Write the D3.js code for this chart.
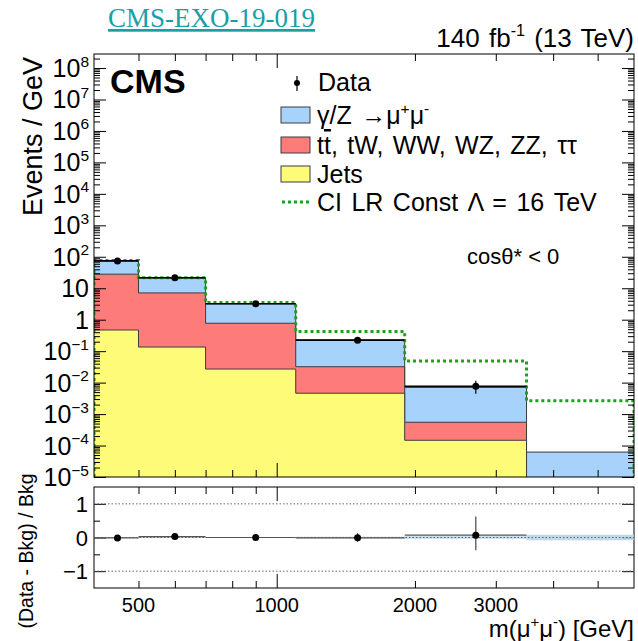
<!DOCTYPE html>
<html lang="en">
<head>
    <meta charset="UTF-8">
    <title>CMS-EXO-19-019 dimuon mass, cos theta* &lt; 0</title>
    <script src="https://d3js.org/d3.v7.min.js"></script>
    <style>
        body {
            margin: 0;
            background: #fff;
            font-family: "Liberation Sans", Arial, sans-serif;
        }
        .axis line { stroke: #000; }
        .link {
            font-family: "Liberation Serif", "Times New Roman", serif;
            fill: #1a9ea8;
            text-decoration: underline;
        }
        .leg { word-spacing: 2.5px; }
    </style>
</head>
<body>
    <div id="chart"></div>

    <script>
        // bin edges in GeV and the stacked backgrounds (Events / GeV)
        const binEdges = [400, 500, 700, 1100, 1900, 3500, 6000];
        const dyMuMu = [47, 13.9, 2.43, 0.194, 0.00655, 5.8e-5];
        const topDiboson = [27.5, 6.97, 0.743, 0.0274, 4.03e-4, 3e-6];
        const jets = [0.47, 0.135, 0.027, 0.0046, 1.47e-4, 1e-6];
        const ciSignal = [76, 21.5, 3.5, 0.42, 0.0486, 0.00266];

        // observed data (mean mass in the bin, Events / GeV, relative errors)
        const dataMass = [450, 600, 900, 1500, 2714];
        const dataValues = [74, 21.6, 3.2, 0.224, 0.0076];
        const dataErrLow = [0.012, 0.02, 0.05, 0.12, 0.45];
        const dataErrHigh = [0.012, 0.02, 0.05, 0.14, 0.55];

        // relative background uncertainty per bin (ratio band)
        const bkgUncert = [0.01, 0.012, 0.015, 0.02, 0.04, 0.08];

        const yPowers = d3.range(-5, 9);
        const xLabelTicks = [500, 1000, 2000, 3000];
        const xMajorTicks = [1000];
        const xMinorTicks = [500, 600, 700, 800, 900, 2000, 3000, 4000, 5000];
        const ratioMajor = [-1, 0, 1];
        const ratioMinor = [-0.5, 0.5];

        const width = 638, height = 641;
        const frame = { left: 94, right: 634, top: 54, bottom: 477 };
        const rframe = { top: 487, bottom: 588 };
        const yMin = 1e-5, yMax = 2.79e8;

        const svg = d3.select("#chart")
            .append("svg")
            .attr("width", width)
            .attr("height", height);

        const x = d3.scaleLog().domain([binEdges[0], binEdges[binEdges.length - 1]]).range([frame.left, frame.right]);
        const y = d3.scaleLog().domain([yMin, yMax]).range([frame.bottom, frame.top]);
        const yr = d3.scaleLinear().domain([-1.5, 1.5]).range([rframe.bottom, rframe.top]);

        svg.append("clipPath").attr("id", "clipMain")
            .append("rect")
            .attr("x", frame.left).attr("y", frame.top)
            .attr("width", frame.right - frame.left).attr("height", frame.bottom - frame.top);
        svg.append("clipPath").attr("id", "clipRatio")
            .append("rect")
            .attr("x", frame.left).attr("y", rframe.top)
            .attr("width", frame.right - frame.left).attr("height", rframe.bottom - rframe.top);

        // stacked tops
        const bkgTotal = jets.map((v, i) => v + topDiboson[i] + dyMuMu[i]);
        const layers = [
            { values: bkgTotal, color: "#a6d2fb" },
            { values: jets.map((v, i) => v + topDiboson[i]), color: "#fd7b78" },
            { values: jets, color: "#fdfb78" }
        ];

        const stepPoints = vals => vals.map((v, i) => [binEdges[i], v]).concat([[binEdges[binEdges.length - 1], vals[vals.length - 1]]]);

        const area = d3.area()
            .x(d => x(d[0]))
            .y0(frame.bottom)
            .y1(d => Math.min(y(d[1]), frame.bottom + 5))
            .curve(d3.curveStepAfter);
        const line = d3.line()
            .x(d => x(d[0]))
            .y(d => Math.min(y(d[1]), frame.bottom + 5))
            .curve(d3.curveStepAfter);

        const main = svg.append("g").attr("clip-path", "url(#clipMain)");

        layers.forEach(l => {
            main.append("path")
                .attr("d", area(stepPoints(l.values)))
                .attr("fill", l.color);
            main.append("path")
                .attr("d", line(stepPoints(l.values)))
                .attr("fill", "none")
                .attr("stroke", "#3c3c3c")
                .attr("stroke-width", 1);
        });

        // CI signal outline
        const ciPts = [[binEdges[0], yMin]].concat(stepPoints(ciSignal))
            .concat([[binEdges[binEdges.length - 1], yMin]]);
        main.append("path")
            .attr("d", line(ciPts))
            .attr("fill", "none")
            .attr("stroke", "#1f9e1f")
            .attr("stroke-width", 3)
            .attr("stroke-dasharray", "3,3");

        // data
        dataValues.forEach((v, i) => {
            const bkg = bkgTotal[i];
            main.append("line")
                .attr("x1", x(binEdges[i])).attr("x2", x(binEdges[i + 1]))
                .attr("y1", y(v)).attr("y2", y(v))
                .attr("stroke", "#000").attr("stroke-width", 1.6);
            main.append("line")
                .attr("x1", x(dataMass[i])).attr("x2", x(dataMass[i]))
                .attr("y1", y(v - dataErrLow[i] * bkg)).attr("y2", y(v + dataErrHigh[i] * bkg))
                .attr("stroke", "#000").attr("stroke-width", 1.2);
            main.append("circle")
                .attr("cx", x(dataMass[i])).attr("cy", y(v))
                .attr("r", 3.5).attr("fill", "#000");
        });

        // axes of the main panel
        const yMajorVals = yPowers.map(p => Math.pow(10, p));
        const yMinorVals = [];
        yPowers.forEach(p => d3.range(2, 10).forEach(m => {
            const v = m * Math.pow(10, p);
            if (v < yMax) yMinorVals.push(v);
        }));

        function ticks(axis, values, size, tx, ty) {
            svg.append("g")
                .attr("class", "axis")
                .attr("transform", `translate(${tx},${ty})`)
                .call(axis.tickValues(values).tickSize(-size).tickFormat(""))
                .call(g => g.select(".domain").remove());
        }

        ticks(d3.axisLeft(y), yMajorVals, 12, frame.left, 0);
        ticks(d3.axisLeft(y), yMinorVals, 6, frame.left, 0);
        ticks(d3.axisRight(y), yMajorVals, 12, frame.right, 0);
        ticks(d3.axisRight(y), yMinorVals, 6, frame.right, 0);
        [[d3.axisBottom, frame.bottom], [d3.axisTop, frame.top], [d3.axisBottom, rframe.bottom], [d3.axisTop, rframe.top]]
            .forEach(([ax, ty]) => {
                ticks(ax(x), xMajorTicks, 14, 0, ty);
                ticks(ax(x), xMinorTicks, 7, 0, ty);
            });
        ticks(d3.axisLeft(yr), ratioMajor, 12, frame.left, 0);
        ticks(d3.axisLeft(yr), ratioMinor, 6, frame.left, 0);
        ticks(d3.axisRight(yr), ratioMajor, 12, frame.right, 0);
        ticks(d3.axisRight(yr), ratioMinor, 6, frame.right, 0);

        svg.append("rect")
            .attr("x", frame.left).attr("y", frame.top)
            .attr("width", frame.right - frame.left).attr("height", frame.bottom - frame.top)
            .attr("fill", "none").attr("stroke", "#000");
        svg.append("rect")
            .attr("x", frame.left).attr("y", rframe.top)
            .attr("width", frame.right - frame.left).attr("height", rframe.bottom - rframe.top)
            .attr("fill", "none").attr("stroke", "#000");

        // text with superscripts: parts = [[text, sup?], ...]
        function richText(parent, parts, size) {
            const t = parent.append("text").style("font-size", size + "px");
            let shift = 0;
            parts.forEach(([s, sup]) => {
                const span = t.append("tspan");
                if (sup) {
                    span.attr("dy", -size * 0.42 - shift).style("font-size", (size * 0.62) + "px");
                    shift = -size * 0.42;
                } else {
                    span.attr("dy", -shift).style("font-size", size + "px");
                    shift = 0;
                }
                span.text(s);
            });
            return t;
        }

        // y tick labels
        yPowers.forEach(p => {
            let parts;
            if (p === 0) parts = [["1"]];
            else if (p === 1) parts = [["10"]];
            else parts = [["10"], [p < 0 ? "\u2212" + (-p) : String(p), true]];
            richText(svg, parts, 25)
                .attr("x", frame.left - 5)
                .attr("y", y(Math.pow(10, p)) + 9)
                .attr("text-anchor", "end");
        });

        svg.append("text")
            .attr("transform", `translate(42,${frame.top + 3}) rotate(-90)`)
            .attr("text-anchor", "end")
            .style("font-size", "27px")
            .text("Events / GeV");

        // ratio panel
        const ratioG = svg.append("g").attr("clip-path", "url(#clipRatio)");
        const band = d3.area()
            .x(d => x(d[0]))
            .y0(d => yr(-d[1]))
            .y1(d => yr(d[1]))
            .curve(d3.curveStepAfter);
        ratioG.append("path")
            .attr("d", band(stepPoints(bkgUncert)))
            .attr("fill", "#b3d2e8")
            .attr("opacity", 0.85);

        ratioMajor.forEach(v => {
            ratioG.append("line")
                .attr("x1", frame.left).attr("x2", frame.right)
                .attr("y1", yr(v)).attr("y2", yr(v))
                .attr("stroke", "#666").attr("stroke-width", 1)
                .attr("stroke-dasharray", "1.5,2");
        });

        dataValues.forEach((v, i) => {
            const bkg = bkgTotal[i];
            const r = (v - bkg) / bkg;
            ratioG.append("line")
                .attr("x1", x(binEdges[i])).attr("x2", x(binEdges[i + 1]))
                .attr("y1", yr(r)).attr("y2", yr(r))
                .attr("stroke", "#555").attr("stroke-width", 1.2);
            ratioG.append("line")
                .attr("x1", x(dataMass[i])).attr("x2", x(dataMass[i]))
                .attr("y1", yr(r - dataErrLow[i])).attr("y2", yr(r + dataErrHigh[i]))
                .attr("stroke", "#444").attr("stroke-width", 1.2);
            ratioG.append("circle")
                .attr("cx", x(dataMass[i])).attr("cy", yr(r))
                .attr("r", 3.5).attr("fill", "#000");
        });

        ratioMajor.forEach(v => {
            svg.append("text")
                .attr("x", frame.left - 6)
                .attr("y", yr(v) + 8)
                .attr("text-anchor", "end")
                .style("font-size", "22px")
                .text(v < 0 ? "\u2212" + (-v) : v);
        });

        svg.append("text")
            .attr("transform", `translate(33,551) rotate(-90)`)
            .attr("text-anchor", "middle")
            .style("font-size", "19.5px")
            .text("(Data - Bkg) / Bkg");

        xLabelTicks.forEach(v => {
            svg.append("text")
                .attr("x", x(v))
                .attr("y", rframe.bottom + 24)
                .attr("text-anchor", "middle")
                .style("font-size", "20px")
                .text(v);
        });

        richText(svg, [["m(\u03bc"], ["+", true], ["\u03bc"], ["-", true], [") [GeV]"]], 24)
            .attr("x", frame.right)
            .attr("y", 637)
            .attr("text-anchor", "end");

        // header texts
        svg.append("text")
            .attr("class", "link")
            .attr("x", 108).attr("y", 27)
            .style("font-size", "27px")
            .text("CMS-EXO-19-019");

        richText(svg, [["140 fb"], ["-1", true], [" (13 TeV)"]], 26)
            .attr("x", frame.right)
            .attr("y", 47)
            .attr("text-anchor", "end")
            .style("word-spacing", "2px");

        svg.append("text")
            .attr("x", 110).attr("y", 93)
            .style("font-size", "34px")
            .style("font-weight", "bold")
            .text("CMS");

        svg.append("text")
            .attr("x", 467).attr("y", 264)
            .style("font-size", "22px")
            .text("cos\u03b8* < 0");

        // legend
        const legend = svg.append("g").attr("class", "leg");
        legend.append("line")
            .attr("x1", 297).attr("x2", 297).attr("y1", 76).attr("y2", 91)
            .attr("stroke", "#000").attr("stroke-width", 1.2);
        legend.append("circle").attr("cx", 297).attr("cy", 83).attr("r", 3).attr("fill", "#000");
        legend.append("text").attr("x", 318).attr("y", 91).style("font-size", "25px").text("Data");

        const boxRows = [
            { y: 115, color: layers[0].color, parts: [["\u03b3/Z \u2192\u03bc"], ["+", true], ["\u03bc"], ["-", true]] },
            { y: 145, color: layers[1].color, parts: null },
            { y: 174, color: layers[2].color, parts: [["Jets"]] }
        ];
        boxRows.forEach(r => {
            legend.append("rect")
                .attr("x", 281).attr("y", r.y - 8).attr("width", 29).attr("height", 16)
                .attr("fill", r.color).attr("stroke", "#3c3c3c");
            if (r.parts) {
                richText(legend, r.parts, 25).attr("x", 317).attr("y", r.y + 9);
            } else {
                const t = legend.append("text").attr("x", 317).attr("y", r.y + 9).style("font-size", "25px");
                t.append("tspan").style("font-size", "25px").text("t");
                t.append("tspan").style("font-size", "25px").attr("text-decoration", "overline").text("t");
                t.append("tspan").style("font-size", "25px").text(", tW, WW, WZ, ZZ, \u03c4\u03c4");
            }
        });

        legend.append("line")
            .attr("x1", 282).attr("x2", 311).attr("y1", 202).attr("y2", 202)
            .attr("stroke", "#1f9e1f").attr("stroke-width", 3).attr("stroke-dasharray", "3,3");
        legend.append("text").attr("x", 317).attr("y", 211).style("font-size", "25px")
            .text("CI LR Const \u039b = 16 TeV");
    </script>
</body>
</html>
